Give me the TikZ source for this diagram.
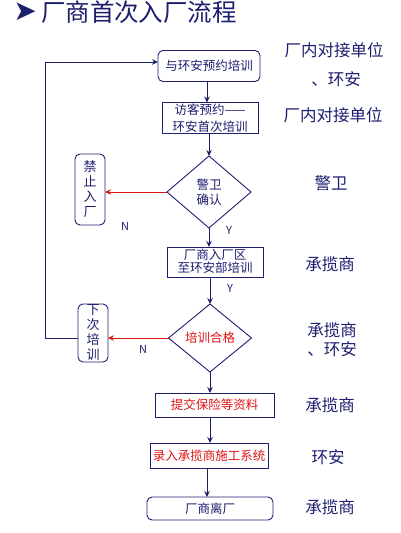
\documentclass[tikz,border=0pt]{standalone}
\usepackage{fontspec}
\setmainfont{Noto Sans CJK SC}
\newfontfamily\symfont{DejaVu Sans}
\usetikzlibrary{shapes.geometric,arrows.meta,calc}
\definecolor{navy}{RGB}{28,30,110}
\definecolor{redc}{RGB}{220,20,20}
\begin{document}
\begin{tikzpicture}[x=1pt,y=-1pt,
  every node/.style={inner sep=0pt,outer sep=0pt},
  box/.style={draw=navy,line width=0.9pt,text=navy,font=\fontsize{12.5}{15}\selectfont,align=center},
  rbox/.style={box,rounded corners=5pt},
  dia/.style={draw=navy,line width=0.9pt,diamond,text=navy,font=\fontsize{12.5}{15}\selectfont,align=center},
  vbox/.style={draw=navy,line width=0.9pt,rounded corners=5pt,text=navy},
  lab/.style={text=navy,font=\fontsize{16.5}{20}\selectfont,align=center},
  yn/.style={text=navy,font=\fontsize{11}{13}\selectfont},
  arr/.style={draw=navy,line width=0.9pt,-{Stealth[length=6pt,width=5.5pt]}},
  rarr/.style={draw=redc,line width=0.9pt,-{Stealth[length=6pt,width=5.5pt]}}
]
\useasboundingbox (0,0) rectangle (401,533);

% title
\node[text=navy,font=\symfont\fontsize{28}{30}\selectfont] (tarrow) at (25,12) {➤};
\node[text=navy,anchor=west,font=\fontsize{24.5}{28}\selectfont] (title) at (41,12) {厂商首次入厂流程};

% main boxes
\node[rbox,minimum width=102pt,minimum height=31pt] (b1) at (209,66) {与环安预约培训};
\node[box,minimum width=96pt,minimum height=31pt,font=\fontsize{12.5}{17}\selectfont] (b2) at (210,118) {访客预约——\\环安首次培训};
\node[dia,minimum width=84pt,minimum height=72pt] (d1) at (209,192) {警卫\\确认};
\node[box,minimum width=96pt,minimum height=30pt] (b3) at (215,262) {};
\node[text=navy,font=\fontsize{12.5}{13}\selectfont,align=center] (b3t) at (215,261.5) {厂商入厂区\\至环安部培训};
\node[dia,minimum width=83pt,minimum height=68pt,text=redc] (d2) at (210,338) {培训合格};
\node[box,minimum width=119pt,minimum height=24pt,text=redc] (b4) at (214.5,405) {提交保险等资料};
\node[box,minimum width=118pt,minimum height=25pt,text=redc] (b5) at (209,455.5) {录入承揽商施工系统};
\node[rbox,minimum width=126pt,minimum height=23pt] (b6) at (210,508.5) {厂商离厂};

% side boxes
\node[vbox,minimum width=30pt,minimum height=71pt] (f) at (90,189.5) {};
\node[text=navy,font=\fontsize{13}{15}\selectfont,align=center] (ft) at (90,189.5) {禁\\止\\入\\厂};
\node[vbox,minimum width=30pt,minimum height=58pt] (nx) at (93,333) {};
\node[text=navy,font=\fontsize{13}{15}\selectfont,align=center] (nxt) at (93,332.5) {下\\次\\培\\训};

% arrows
\draw[arr] (b1.south -| 207,0) -- (b2.north -| 207,0);
\draw[arr] (b2.south -| d1.north) -- (d1.north);
\draw[arr] (d1.south) -- (d1.south |- b3.north);
\draw[arr] (b3.south -| d2.north) -- (d2.north);
\draw[arr] (d2.south) -- (d2.south |- b4.north);
\draw[arr] (b4.south -| d2.south) -- (b5.north -| d2.south);
\draw[arr] (b5.south -| 207,0) -- (b6.north -| 207,0);
\draw[rarr] (d1.west) -- (d1.west -| f.east);
\draw[rarr] (d2.west) -- (d2.west -| nx.east);

% feedback loop
\coordinate (c1) at (45,338);
\coordinate (c2) at (45,62);
\draw[arr] (nx.west |- d2.west) -- (c1) -- (c2) -- (c2 -| b1.west);

% Y / N labels
\node[yn] (n1) at (125,226) {N};
\node[yn] (y1) at (229,230) {Y};
\node[yn] (y2) at (230,288) {Y};
\node[yn] (n2) at (143,349) {N};

% right labels
\node[lab] (l1) at (334,50) {厂内对接单位};
\node[lab] (l2) at (336,79) {、环安};
\node[lab] (l3) at (333,115) {厂内对接单位};
\node[lab] (l4) at (331,183) {警卫};
\node[lab] (l5) at (330,264) {承揽商};
\node[lab,font=\fontsize{16.5}{19}\selectfont] (l6) at (332,339.5) {承揽商\\、环安};
\node[lab] (l7) at (330,405) {承揽商};
\node[lab] (l8) at (328,457) {环安};
\node[lab] (l9) at (330,507) {承揽商};
\end{tikzpicture}
\end{document}
